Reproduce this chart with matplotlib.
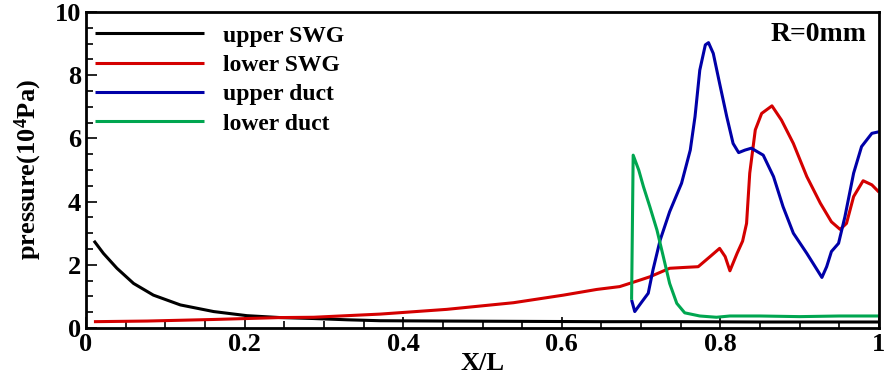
import matplotlib.pyplot as plt
from matplotlib.ticker import MultipleLocator

plt.rcParams['font.family'] = ['Liberation Serif', 'DejaVu Serif']
plt.rcParams['font.weight'] = 'bold'
plt.rcParams['mathtext.fontset'] = 'custom'
plt.rcParams['mathtext.rm'] = 'Liberation Serif:bold'
plt.rcParams['mathtext.default'] = 'rm'

# upper SWG
x_us = [0.010, 0.022, 0.039, 0.060, 0.085, 0.119, 0.161, 0.203, 0.245, 0.287, 0.329, 0.371,
        0.45, 0.55, 0.65, 0.75, 0.85, 1.0]
y_us = [2.76, 2.36, 1.89, 1.41, 1.04, 0.73, 0.52, 0.39, 0.33, 0.30, 0.26, 0.23,
        0.22, 0.21, 0.20, 0.20, 0.19, 0.19]

# lower SWG
x_ls = [0.010, 0.077, 0.161, 0.245, 0.287, 0.329, 0.371, 0.455, 0.539, 0.602, 0.644, 0.673,
        0.699, 0.711, 0.736, 0.757, 0.772, 0.787, 0.799, 0.806, 0.812, 0.821, 0.828, 0.833,
        0.837, 0.844, 0.852, 0.865, 0.877, 0.892, 0.909, 0.926, 0.940, 0.951, 0.959, 0.968,
        0.980, 0.991, 1.0]
y_ls = [0.20, 0.22, 0.27, 0.33, 0.34, 0.39, 0.44, 0.59, 0.80, 1.04, 1.22, 1.31,
        1.52, 1.62, 1.89, 1.92, 1.94, 2.26, 2.52, 2.26, 1.81, 2.36, 2.75, 3.31,
        4.90, 6.27, 6.79, 7.03, 6.58, 5.84, 4.79, 3.95, 3.36, 3.12, 3.31, 4.16,
        4.66, 4.53, 4.30]

# upper duct
x_ud = [0.688, 0.692, 0.701, 0.709, 0.715, 0.724, 0.736, 0.751, 0.762, 0.768, 0.774, 0.781,
        0.785, 0.791, 0.799, 0.808, 0.816, 0.823, 0.831, 0.839, 0.854, 0.867, 0.879, 0.892,
        0.909, 0.928, 0.934, 0.940, 0.949, 0.957, 0.968, 0.978, 0.991, 1.0]
y_ud = [0.89, 0.52, 0.83, 1.10, 1.84, 2.78, 3.68, 4.58, 5.63, 6.69, 8.16, 8.96,
        9.03, 8.69, 7.74, 6.69, 5.84, 5.55, 5.63, 5.69, 5.47, 4.79, 3.84, 3.00,
        2.36, 1.60, 1.94, 2.42, 2.68, 3.52, 4.90, 5.74, 6.16, 6.21]

# lower duct
x_ld = [0.688, 0.690, 0.697, 0.703, 0.711, 0.720, 0.728, 0.736, 0.745, 0.755, 0.774, 0.795,
        0.812, 0.850, 0.9, 0.95, 1.0]
y_ld = [0.89, 5.47, 5.00, 4.47, 3.84, 3.10, 2.26, 1.41, 0.78, 0.48, 0.38, 0.34,
        0.38, 0.38, 0.36, 0.38, 0.38]

fig = plt.figure(figsize=(8.84, 3.8), dpi=100)
ax = fig.add_axes([86 / 884, 1 - 328 / 380, 793 / 884, 316 / 380])

lw = 2.2
kw = dict(lw=lw, solid_joinstyle='round', solid_capstyle='butt')
ax.plot(x_us, y_us, color='black', label='upper SWG', **kw)
ax.plot(x_ls, y_ls, color='#d40000', label='lower SWG', **kw)
ax.plot(x_ud, y_ud, color='#0000a8', label='upper duct', **kw)
ax.plot(x_ld, y_ld, color='#00a650', label='lower duct', **kw)

ax.set_xlim(0, 1)
ax.set_ylim(0, 10)
ax.set_xticks([0, 0.2, 0.4, 0.6, 0.8, 1.0])
ax.set_xticklabels(['0', '0.2', '0.4', '0.6', '0.8', '1'])
ax.xaxis.set_minor_locator(MultipleLocator(0.05))
ax.yaxis.set_major_locator(MultipleLocator(2))
ax.yaxis.set_minor_locator(MultipleLocator(0.5))
ax.tick_params(which='both', direction='in', labelsize=19, width=1.2, top=False, right=False)
ax.tick_params(which='major', length=8)
ax.tick_params(which='minor', length=5)
for s in ax.spines.values():
    s.set_linewidth(2)

ax.set_xlabel('X/L', fontsize=19, fontweight='bold', labelpad=-3)
ax.set_ylabel('pressure(10$^4$Pa)', fontsize=19, fontweight='bold', labelpad=8)

ax.legend(loc='upper left', bbox_to_anchor=(-0.015, 1.026), frameon=False,
          handlelength=4.6, handletextpad=0.8, labelspacing=0.33,
          prop={'weight': 'bold', 'size': 17})
ax.text(0.984, 0.968, 'R=0mm', transform=ax.transAxes, ha='right', va='top',
        fontsize=20, fontweight='bold')

fig.savefig('out.png', dpi=100)
